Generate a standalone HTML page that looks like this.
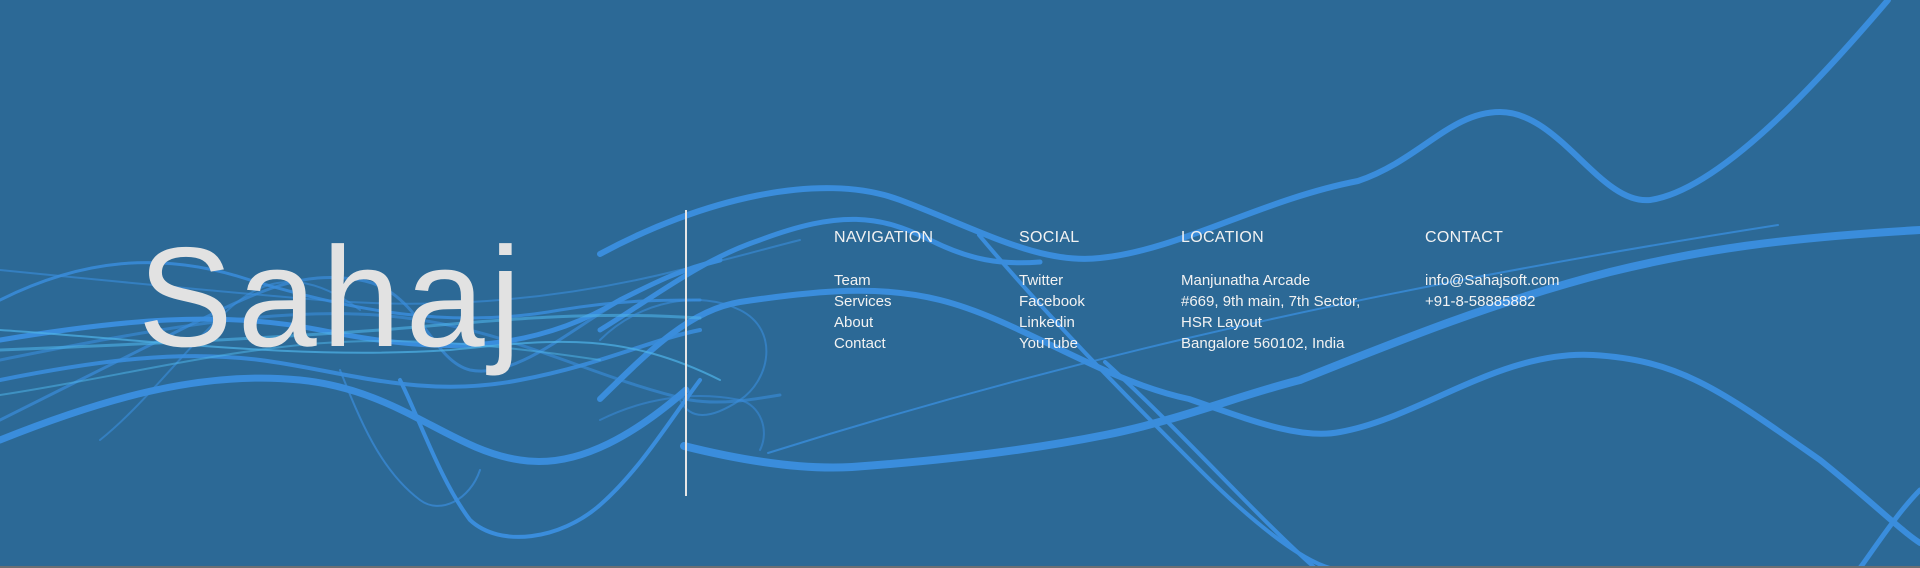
<!DOCTYPE html>
<html><head><meta charset="utf-8"><style>
html,body{margin:0;padding:0}
body{width:1920px;height:568px;position:relative;overflow:hidden;background:#2c6996;font-family:"Liberation Sans",sans-serif;color:#f2f2f2}
svg{position:absolute;left:0;top:0}
.logo{position:absolute;left:138px;top:227px;font-size:142px;line-height:142px;color:#e2e2e2;letter-spacing:5px}
.vline{position:absolute;left:685px;top:210px;width:2px;height:286px;background:#e6e6e6}
.col{position:absolute;top:230px}
.col h3{margin:0;font-weight:normal;font-size:16px;line-height:16px;letter-spacing:.3px}
.col ul{list-style:none;margin:0;padding:0;position:absolute;top:40px;white-space:nowrap}
.col li{font-size:15px;line-height:21px}
.bottom{position:absolute;left:0;top:566px;width:1920px;height:2px;background:#6b6f73}
</style></head><body>
<svg width="1920" height="568">
<g fill="none" stroke="#3a8ddc" stroke-linecap="round">
<path d="M600,254 C700,200 820,170 900,200 C980,230 1040,265 1100,258 C1180,250 1260,200 1358,181 C1420,160 1450,112 1500,112 C1560,112 1600,205 1650,200 C1720,190 1820,80 1888,0" stroke-width="6"/>
<path d="M600,330 C650,300 700,260 760,240 C840,210 880,215 930,240 C970,260 1000,265 1040,262" stroke-width="5"/>
<path d="M684,446 C740,460 800,470 852,467 C950,460 1030,450 1105,435 C1180,420 1240,395 1300,380 C1400,340 1500,300 1610,272 C1700,250 1780,238 1920,230" stroke-width="8"/>
<path d="M600,399 C650,350 690,310 740,302 C820,290 880,285 940,300 C1020,320 1100,380 1189,399 C1250,420 1300,440 1340,432 C1420,418 1500,350 1593,355 C1680,360 1720,390 1820,460 C1870,500 1900,530 1920,543" stroke-width="6"/>
<path d="M979,235 C1050,320 1150,420 1200,470 C1250,520 1300,560 1330,568" stroke-width="4"/>
<path d="M1105,362 C1180,430 1260,520 1315,568" stroke-width="4"/>
<path d="M768,453 C1000,380 1300,300 1778,225" stroke-width="2" opacity=".8"/>
<path d="M1860,568 C1880,540 1900,510 1920,490" stroke-width="5"/>
<path d="M0,440 C100,400 200,370 300,380 C400,390 450,450 520,460 C580,470 640,430 686,390" stroke-width="7"/>
<path d="M0,340 C120,320 220,310 320,330 C420,350 520,360 620,300 C660,280 680,270 720,260" stroke-width="5"/>
<path d="M0,300 C80,260 160,250 250,280 C350,310 450,330 560,310 C620,300 660,300 700,300" stroke-width="3" opacity=".85"/>
<path d="M0,380 C100,360 180,350 260,360 C340,370 420,400 520,380 C600,365 650,340 700,330" stroke-width="4" opacity=".9"/>
<path d="M0,420 C60,390 120,360 180,330 C260,290 300,270 360,280 C420,290 430,360 470,370 C520,380 580,320 640,290" stroke-width="3" opacity=".7"/>
<path d="M400,380 C420,420 440,480 470,520 C500,548 560,540 600,505 C640,470 670,420 700,380" stroke-width="4"/>
<path d="M340,370 C360,420 380,470 420,500 C440,515 470,500 480,470" stroke-width="2" opacity=".7"/>
<path d="M0,360 C150,330 300,300 420,320 C520,335 600,380 690,400 C720,405 750,400 780,395" stroke-width="3" opacity=".6"/>
<path d="M100,440 C150,400 200,330 240,300 C280,270 320,280 360,310" stroke-width="2" opacity=".6"/>
<path d="M0,330 C150,340 300,360 450,350 C550,340 620,330 720,380" stroke-width="2" stroke="#4fb3e8" opacity=".7"/>
<path d="M0,350 C120,345 240,340 380,330 C480,322 580,310 700,318" stroke-width="3" stroke="#4fb3e8" opacity=".6"/>
<path d="M0,395 C100,380 200,355 300,345 C400,335 500,345 600,360" stroke-width="2" stroke="#4fb3e8" opacity=".55"/>
<path d="M0,270 C100,280 200,290 320,300 C440,310 560,300 680,270 C720,262 760,250 800,240" stroke-width="2" opacity=".6"/>
<path d="M600,340 C640,300 700,290 740,310 C780,330 770,380 740,400 C710,420 690,420 680,400" stroke-width="2" opacity=".6"/>
<path d="M600,420 C640,400 690,390 740,400 C760,405 770,430 760,450" stroke-width="2" opacity=".55"/>
</g>
</svg>
<div class="logo">Sahaj</div>
<div class="vline"></div>
<div class="col" style="left:834px">
<h3>NAVIGATION</h3>
<ul><li>Team</li><li>Services</li><li>About</li><li>Contact</li></ul>
</div>
<div class="col" style="left:1019px">
<h3>SOCIAL</h3>
<ul><li>Twitter</li><li>Facebook</li><li>Linkedin</li><li>YouTube</li></ul>
</div>
<div class="col" style="left:1181px">
<h3>LOCATION</h3>
<ul><li>Manjunatha Arcade</li><li>#669, 9th main, 7th Sector,</li><li>HSR Layout</li><li>Bangalore 560102, India</li></ul>
</div>
<div class="col" style="left:1425px">
<h3>CONTACT</h3>
<ul><li>info@Sahajsoft.com</li><li>+91-8-58885882</li></ul>
</div>
<div class="bottom"></div>
</body></html>
